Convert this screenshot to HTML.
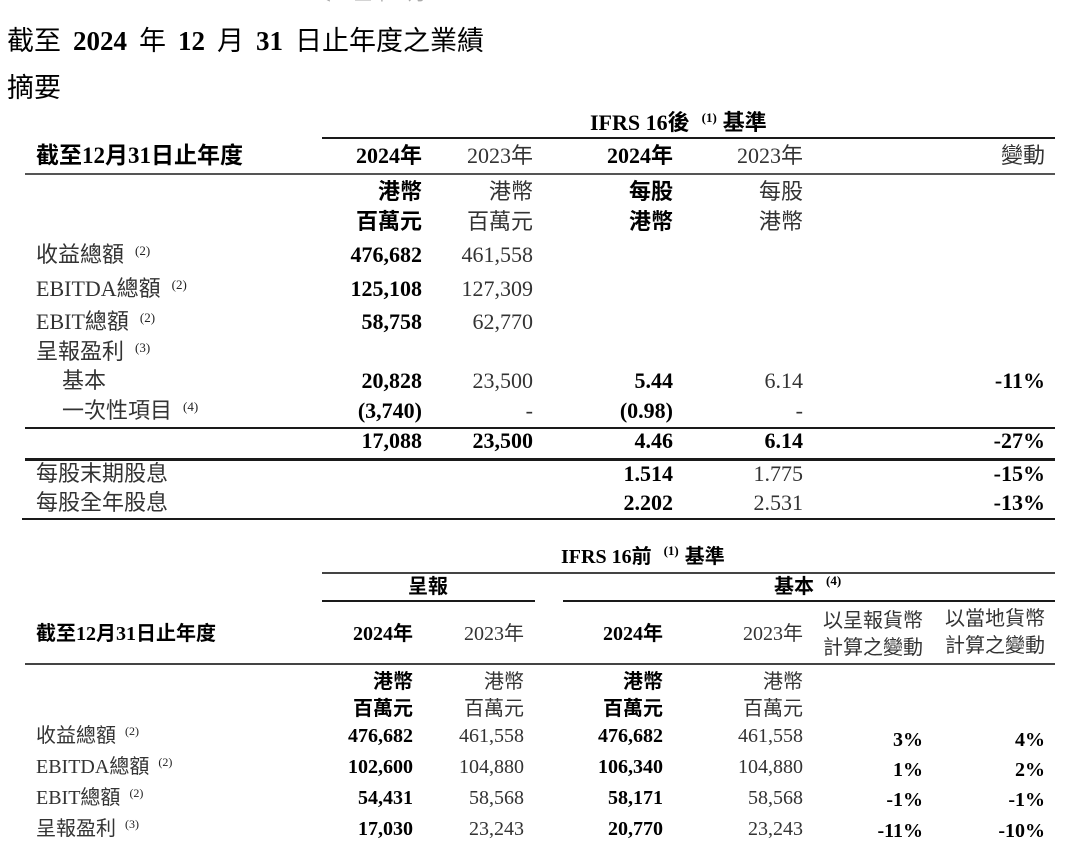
<!DOCTYPE html>
<html><head><meta charset="utf-8">
<style>
body{margin:0;background:#fff;}
#p{position:relative;width:1080px;height:864px;overflow:hidden;background:#fff;font-family:"Liberation Serif","Noto Sans CJK TC",serif;color:#333;}
.a{position:absolute;white-space:nowrap;line-height:1;}
.b{font-weight:bold;color:#000;}
.l{position:absolute;background:#1a1a1a;}
.s{font-size:13px;position:relative;top:-7px;margin-left:11px;font-weight:normal;color:#222;}
.s2{font-size:12px;position:relative;top:-7px;margin-left:9px;font-weight:normal;color:#222;}
.sb{font-size:13px;position:relative;top:-8px;margin-left:12px;margin-right:6px;font-weight:bold;color:#000;}
.t1{font-size:22px;}
.t2{font-size:20px;}
.ti{font-size:27px;color:#000;}
.ti b{font-weight:bold;}
.sp{display:inline-block;width:12px;}
</style></head><body><div id="p">

<div class="a" style="left:300px;top:-15px;font-size:18px;color:#aaa;">二零二五年三月</div>

<div class="a ti" style="left:7px;top:28px;">截至<span class="sp"></span><b>2024</b><span class="sp"></span>年<span class="sp"></span><b>12</b><span class="sp"></span>月<span class="sp"></span><b>31</b><span class="sp"></span>日止年度之業績</div>
<div class="a ti" style="left:7px;top:75px;">摘要</div>

<!-- TABLE 1 -->
<div class="a b" style="left:590px;top:112px;font-size:22px;">IFRS 16後<span class="sb">(1)</span>基準</div>
<div class="l" style="left:322px;top:137px;width:733px;height:2px;"></div>

<div class="a b" style="left:36px;top:144px;font-size:23px;">截至12月31日止年度</div>
<div class="a t1 b" style="right:658px;top:145px;">2024年</div>
<div class="a t1" style="right:547px;top:145px;">2023年</div>
<div class="a t1 b" style="right:407px;top:145px;">2024年</div>
<div class="a t1" style="right:277px;top:145px;">2023年</div>
<div class="a t1" style="right:35px;top:145px;">變動</div>
<div class="l" style="left:25px;top:173px;width:1030px;height:2px;background:#555;"></div>

<div class="a t1 b" style="right:658px;top:181px;">港幣</div>
<div class="a t1" style="right:547px;top:181px;">港幣</div>
<div class="a t1 b" style="right:407px;top:181px;">每股</div>
<div class="a t1" style="right:277px;top:181px;">每股</div>
<div class="a t1 b" style="right:658px;top:211px;">百萬元</div>
<div class="a t1" style="right:547px;top:211px;">百萬元</div>
<div class="a t1 b" style="right:407px;top:211px;">港幣</div>
<div class="a t1" style="right:277px;top:211px;">港幣</div>

<div class="a t1" style="left:36px;top:244px;">收益總額<span class="s">(2)</span></div>
<div class="a t1 b" style="right:658px;top:244px;">476,682</div>
<div class="a t1" style="right:547px;top:244px;">461,558</div>

<div class="a t1" style="left:36px;top:278px;">EBITDA總額<span class="s">(2)</span></div>
<div class="a t1 b" style="right:658px;top:278px;">125,108</div>
<div class="a t1" style="right:547px;top:278px;">127,309</div>

<div class="a t1" style="left:36px;top:311px;">EBIT總額<span class="s">(2)</span></div>
<div class="a t1 b" style="right:658px;top:311px;">58,758</div>
<div class="a t1" style="right:547px;top:311px;">62,770</div>

<div class="a t1" style="left:36px;top:341px;">呈報盈利<span class="s">(3)</span></div>

<div class="a t1" style="left:62px;top:370px;">基本</div>
<div class="a t1 b" style="right:658px;top:370px;">20,828</div>
<div class="a t1" style="right:547px;top:370px;">23,500</div>
<div class="a t1 b" style="right:407px;top:370px;">5.44</div>
<div class="a t1" style="right:277px;top:370px;">6.14</div>
<div class="a t1 b" style="right:35px;top:370px;">-11%</div>

<div class="a t1" style="left:62px;top:400px;">一次性項目<span class="s">(4)</span></div>
<div class="a t1 b" style="right:658px;top:400px;">(3,740)</div>
<div class="a t1" style="right:547px;top:400px;">-</div>
<div class="a t1 b" style="right:407px;top:400px;">(0.98)</div>
<div class="a t1" style="right:277px;top:400px;">-</div>

<div class="l" style="left:25px;top:427px;width:1030px;height:2px;"></div>

<div class="a t1 b" style="right:658px;top:430px;">17,088</div>
<div class="a t1 b" style="right:547px;top:430px;">23,500</div>
<div class="a t1 b" style="right:407px;top:430px;">4.46</div>
<div class="a t1 b" style="right:277px;top:430px;">6.14</div>
<div class="a t1 b" style="right:35px;top:430px;">-27%</div>

<div class="l" style="left:25px;top:458px;width:1030px;height:3px;"></div>

<div class="a t1" style="left:36px;top:463px;">每股末期股息</div>
<div class="a t1 b" style="right:407px;top:463px;">1.514</div>
<div class="a t1" style="right:277px;top:463px;">1.775</div>
<div class="a t1 b" style="right:35px;top:463px;">-15%</div>

<div class="a t1" style="left:36px;top:492px;">每股全年股息</div>
<div class="a t1 b" style="right:407px;top:492px;">2.202</div>
<div class="a t1" style="right:277px;top:492px;">2.531</div>
<div class="a t1 b" style="right:35px;top:492px;">-13%</div>

<div class="l" style="left:22px;top:518px;width:1033px;height:2px;"></div>

<!-- TABLE 2 -->
<div class="a b" style="left:561px;top:547px;font-size:20px;">IFRS 16前<span class="sb">(1)</span>基準</div>
<div class="l" style="left:322px;top:572px;width:733px;height:2px;background:#444;"></div>

<div class="a t2 b" style="left:408px;top:577px;">呈報</div>
<div class="a t2 b" style="left:774px;top:577px;">基本<span class="sb">(4)</span></div>
<div class="l" style="left:322px;top:600px;width:213px;height:2px;"></div>
<div class="l" style="left:563px;top:600px;width:492px;height:2px;"></div>

<div class="a t2 b" style="left:36px;top:624px;">截至12月31日止年度</div>
<div class="a t2 b" style="right:667px;top:624px;">2024年</div>
<div class="a t2" style="right:556px;top:624px;">2023年</div>
<div class="a t2 b" style="right:417px;top:624px;">2024年</div>
<div class="a t2" style="right:277px;top:624px;">2023年</div>
<div class="a t2" style="right:157px;top:611px;">以呈報貨幣</div>
<div class="a t2" style="right:157px;top:638px;">計算之變動</div>
<div class="a t2" style="right:35px;top:609px;">以當地貨幣</div>
<div class="a t2" style="right:35px;top:636px;">計算之變動</div>
<div class="l" style="left:25px;top:663px;width:1030px;height:2px;background:#444;"></div>

<div class="a t2 b" style="right:667px;top:672px;">港幣</div>
<div class="a t2" style="right:556px;top:672px;">港幣</div>
<div class="a t2 b" style="right:417px;top:672px;">港幣</div>
<div class="a t2" style="right:277px;top:672px;">港幣</div>
<div class="a t2 b" style="right:667px;top:699px;">百萬元</div>
<div class="a t2" style="right:556px;top:699px;">百萬元</div>
<div class="a t2 b" style="right:417px;top:699px;">百萬元</div>
<div class="a t2" style="right:277px;top:699px;">百萬元</div>

<div class="a t2" style="left:36px;top:726px;">收益總額<span class="s2">(2)</span></div>
<div class="a t2 b" style="right:667px;top:726px;">476,682</div>
<div class="a t2" style="right:556px;top:726px;">461,558</div>
<div class="a t2 b" style="right:417px;top:726px;">476,682</div>
<div class="a t2" style="right:277px;top:726px;">461,558</div>
<div class="a t2 b" style="right:157px;top:730px;">3%</div>
<div class="a t2 b" style="right:35px;top:730px;">4%</div>

<div class="a t2" style="left:36px;top:757px;">EBITDA總額<span class="s2">(2)</span></div>
<div class="a t2 b" style="right:667px;top:757px;">102,600</div>
<div class="a t2" style="right:556px;top:757px;">104,880</div>
<div class="a t2 b" style="right:417px;top:757px;">106,340</div>
<div class="a t2" style="right:277px;top:757px;">104,880</div>
<div class="a t2 b" style="right:157px;top:760px;">1%</div>
<div class="a t2 b" style="right:35px;top:760px;">2%</div>

<div class="a t2" style="left:36px;top:788px;">EBIT總額<span class="s2">(2)</span></div>
<div class="a t2 b" style="right:667px;top:788px;">54,431</div>
<div class="a t2" style="right:556px;top:788px;">58,568</div>
<div class="a t2 b" style="right:417px;top:788px;">58,171</div>
<div class="a t2" style="right:277px;top:788px;">58,568</div>
<div class="a t2 b" style="right:157px;top:790px;">-1%</div>
<div class="a t2 b" style="right:35px;top:790px;">-1%</div>

<div class="a t2" style="left:36px;top:819px;">呈報盈利<span class="s2">(3)</span></div>
<div class="a t2 b" style="right:667px;top:819px;">17,030</div>
<div class="a t2" style="right:556px;top:819px;">23,243</div>
<div class="a t2 b" style="right:417px;top:819px;">20,770</div>
<div class="a t2" style="right:277px;top:819px;">23,243</div>
<div class="a t2 b" style="right:157px;top:821px;">-11%</div>
<div class="a t2 b" style="right:35px;top:821px;">-10%</div>

</div></body></html>
